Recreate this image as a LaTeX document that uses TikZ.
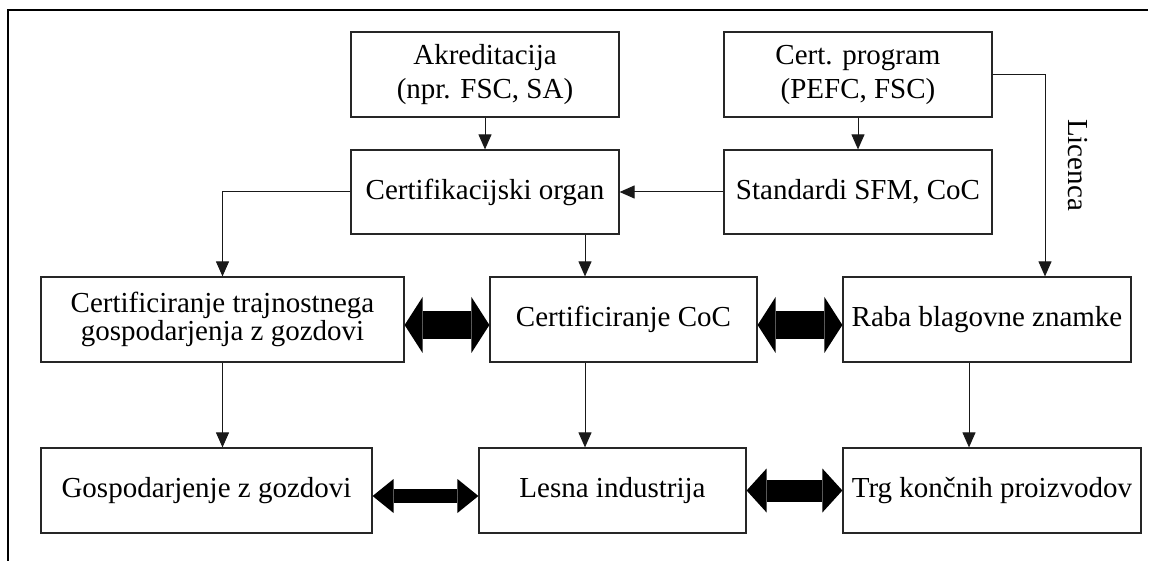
\documentclass[tikz,border=0pt]{standalone}
\usepackage{fontspec}
\setmainfont{Liberation Serif}
\usetikzlibrary{arrows.meta}
\tikzset{
  box/.style={draw=black!85, line width=1.2pt, inner sep=0pt, align=center,
    font=\fontsize{29}{34}\selectfont, minimum height=85pt},
  tight/.style={font=\fontsize{29}{26}\selectfont},
  flow/.style={line width=1pt, draw=black!90, -{Triangle[length=15pt,width=13pt]}},
  bigarrow/.style n args={3}{line width=#1, fill=black,
    {Triangle[length=#3,width=#2,line width=0pt]}-{Triangle[length=#3,width=#2,line width=0pt]}},
  frameline/.style={line width=1.2pt, draw=black}
}
\begin{document}
\begin{tikzpicture}[x=1pt,y=-1pt]
\useasboundingbox (0,0) rectangle (1152,561);
\draw[frameline] (8,561) -- (8,10) -- (1148,10);

% top two rows
\node[box, minimum width=268pt] (akr) at (485,74.5) {Akreditacija\\(npr. FSC, SA)};
\node[box, minimum width=268pt, minimum height=84pt] (org) at (485,192) {Certifikacijski organ};
\node[box, minimum width=268pt] (prog) at (858,74.5) {Cert. program\\(PEFC, FSC)};
\node[box, minimum width=268pt, minimum height=84pt] (std) at (858,192) {Standardi SFM, CoC};

% middle row
\node[box, tight, minimum width=363pt] (sfm) at (222.5,319.5) {Certificiranje trajnostnega\\gospodarjenja z gozdovi};
\node[box, minimum width=267pt] (coc) at (623.5,319.5) {Certificiranje CoC};
\node[box, minimum width=288pt] (raba) at (987,319.5) {Raba blagovne znamke};

% bottom row
\node[box, minimum width=331pt] (goz) at (206.5,490.5) {Gospodarjenje z gozdovi};
\node[box, minimum width=267pt] (les) at (612.5,490.5) {Lesna industrija};
\node[box, minimum width=298pt] (trg) at (992,490.5) {Trg končnih proizvodov};

\node[font=\fontsize{29}{30}\selectfont, rotate=-90] (lic) at (1078,165) {Licenca};

% thin connectors
\draw[flow] (akr.south) -- (akr.south |- org.north);
\draw[flow] (prog.south) -- (prog.south |- std.north);
\draw[flow] (std.west) -- (org.east);
\draw[flow] (org.west) -| (sfm.north);
\draw[flow] ([xshift=100pt]org.south) -- ([xshift=100pt]org.south |- coc.north);
\draw[flow] (prog.east) -| ([xshift=58pt]raba.north);
\draw[flow] (sfm.south) -- (sfm.south |- goz.north);
\draw[flow] ([xshift=-38.5pt]coc.south) -- ([xshift=-38.5pt]coc.south |- les.north);
\draw[flow] ([xshift=-18pt]raba.south) -- ([xshift=-18pt]raba.south |- trg.north);

% broad two-way arrows
\draw[bigarrow={28pt}{56pt}{18pt}] ([yshift=-5.5pt]sfm.east) -- ([yshift=-5.5pt]coc.west);
\draw[bigarrow={28pt}{56pt}{18pt}] ([yshift=-5.5pt]coc.east) -- ([yshift=-5.5pt]raba.west);
\draw[bigarrow={14pt}{34pt}{21pt}] ([yshift=-5.5pt]goz.east) -- ([yshift=-5.5pt]les.west);
\draw[bigarrow={22pt}{44pt}{20pt}] (les.east) -- (trg.west);
\end{tikzpicture}
\end{document}
